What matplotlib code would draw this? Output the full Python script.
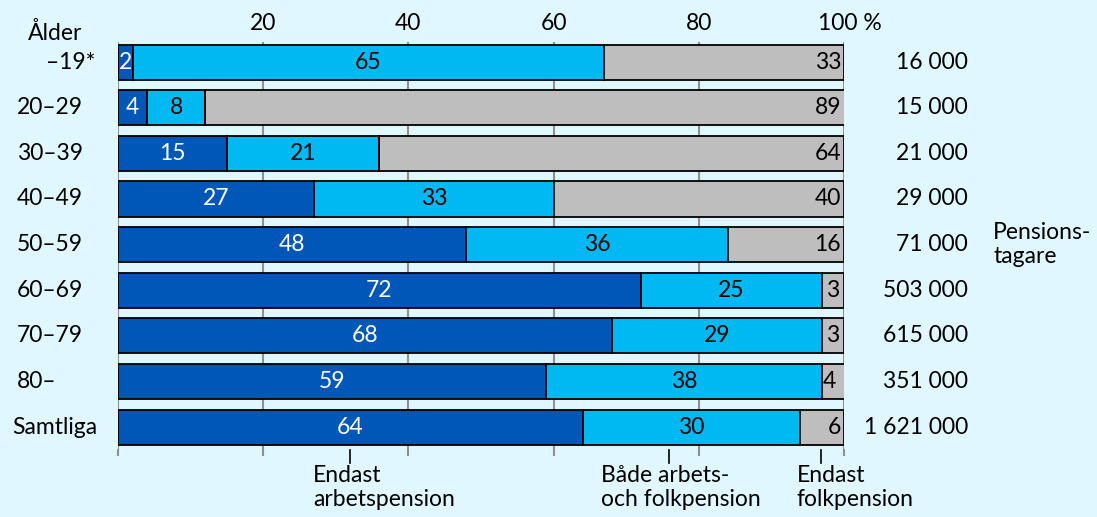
import matplotlib
matplotlib.use("Agg")
from matplotlib import pyplot as plt
import matplotlib.transforms as mtransforms
import numpy as np

plt.rcParams['font.family'] = ['Lato', 'DejaVu Sans']

ages = ['–19*', '20–29', '30–39', '40–49', '50–59', '60–69', '70–79', '80–', 'Samtliga']
arbets = [2, 4, 15, 27, 48, 72, 68, 59, 64]
bade = [65, 8, 21, 33, 36, 25, 29, 38, 30]
folk = [33, 89, 64, 40, 16, 3, 3, 4, 6]
antal = ['16 000', '15 000', '21 000', '29 000', '71 000', '503 000', '615 000', '351 000', '1 621 000']
ticks = [20, 40, 60, 80, 100]

c_dark = '#0057b8'
c_light = '#00b9f2'
c_grey = '#bebebe'
bg = '#e0f7ff'
fs = 16.5

fig = plt.figure(figsize=(10.97, 5.17), dpi=100, facecolor=bg)
ax = fig.add_axes([118/1097, 67/517, 726/1097, 408/517])
ax.set_facecolor(bg)

y = np.arange(len(ages))
h = 0.77
arb = np.array(arbets)
bad = np.array(bade)
fol = np.array(folk)
ax.barh(y, arb, h, color=c_dark, edgecolor='black', lw=1.3, zorder=3)
ax.barh(y, bad, h, left=arb, color=c_light, edgecolor='black', lw=1.3, zorder=3)
ax.barh(y, fol, h, left=arb + bad, color=c_grey, edgecolor='black', lw=1.3, zorder=3)

for i in range(len(ages)):
    ax.text(arb[i] / 2, y[i], str(arb[i]), color='white', ha='center', va='center',
            fontsize=fs, zorder=4)
    ax.text(arb[i] + bad[i] / 2, y[i], str(bad[i]), color='black', ha='center',
            va='center', fontsize=fs, zorder=4)
    if fol[i] > 4:
        ax.text(99.6, y[i], str(fol[i]), color='black', ha='right', va='center',
                fontsize=fs, zorder=4)
    else:
        ax.text(100 - fol[i] / 2, y[i], str(fol[i]), color='black', ha='center',
                va='center', fontsize=fs, zorder=4)

ax.set_xlim(0, 100)
ax.set_ylim(8.5, -0.44)
for s in ax.spines.values():
    s.set_visible(False)

for gx in [0] + ticks:
    ax.axvline(gx, color='#909090', lw=1.5, zorder=1)

ax.xaxis.tick_top()
ax.set_xticks([0] + ticks)
ax.set_xticklabels([''] + [str(t) for t in ticks[:-1]] + ['100 %'])
ax.tick_params(axis='x', length=0, labelsize=fs, pad=6)
lab = ax.get_xticklabels()[-1]
lab.set_horizontalalignment('left')
lab.set_transform(lab.get_transform() + mtransforms.ScaledTranslation(-26/100, 0, fig.dpi_scale_trans))
ax.set_yticks([])

# bottom tick stubs
for gx in [0] + ticks:
    ax.plot([gx, gx], [8.5, 8.62], color='#909090', lw=1.5, clip_on=False)

# row labels
px = 7.26  # pixels per percent
ax.text((55 - 118) / px, -0.64, 'Ålder', ha='center', va='center', fontsize=fs)
for i, a in enumerate(ages):
    if i == 0:
        ax.text((95 - 118) / px, y[i], a, ha='right', va='center', fontsize=fs)
    elif i == len(ages) - 1:
        ax.text((12 - 118) / px, y[i], a, ha='left', va='center', fontsize=fs)
    else:
        ax.text((17 - 118) / px, y[i], a, ha='left', va='center', fontsize=fs)
    ax.text((968 - 118) / px, y[i], antal[i], ha='right', va='center', fontsize=fs)

ax.text((993 - 118) / px, 4.0, 'Pensions-\ntagare', ha='left', va='center',
        fontsize=fs, linespacing=1.2)

# legend annotations
ann = [(32, 26.9, 'Endast\narbetspension'), (75.9, 66.5, 'Både arbets-\noch folkpension'),
       (96.8, 93.5, 'Endast\nfolkpension')]
for lx, tx, t in ann:
    ax.plot([lx, lx], [8.5, 8.78], color='black', lw=1.2, clip_on=False)
    ax.text(tx, 8.83, t, ha='left', va='top', fontsize=fs, linespacing=1.15)

fig.savefig('out.png', dpi=100, facecolor=bg)
